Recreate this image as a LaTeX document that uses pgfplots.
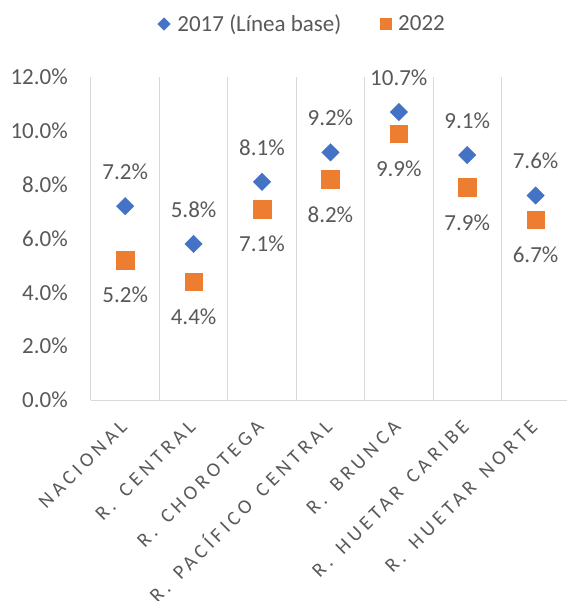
\documentclass[border=0pt]{standalone}
\usepackage{fontspec}
\setmainfont{Carlito}
\newfontfamily\catfont[LetterSpace=21]{Carlito}
\usepackage{pgfplots}
\pgfplotsset{compat=1.18}
\definecolor{bl}{HTML}{4472C4}
\definecolor{og}{HTML}{ED7D31}
\definecolor{gridc}{HTML}{D9D9D9}
\definecolor{txt}{HTML}{595959}
\pgfplotsset{/pgf/number format/assume math mode=true}
\newcommand{\bigf}{\fontsize{23bp}{27bp}\selectfont}
\newcommand{\ws}{\ \hspace{0.21em}}
\begin{document}
\begin{tikzpicture}
\begin{axis}[
  scale only axis, width=476bp, height=323bp,
  xmin=-0.5, xmax=6.459, ymin=0, ymax=12,
  axis lines*=left,
  x axis line style={gridc, line width=1bp},
  y axis line style={draw=none},
  clip=false,
  xtick={0,...,6},
  xticklabels={NACIONAL, R.\ws CENTRAL, R.\ws CHOROTEGA, R.\ws PACÍFICO\ws CENTRAL, R.\ws BRUNCA, R.\ws HUETAR\ws CARIBE, R.\ws HUETAR\ws NORTE},
  major tick length=0pt, minor tick length=0pt,
  minor xtick={-0.5,0.5,1.5,2.5,3.5,4.5,5.5},
  xminorgrids=true,
  minor grid style={gridc, line width=1bp},
  ytick={0,2,...,12},
  yticklabel={\pgfmathprintnumber[fixed,fixed zerofill,precision=1]{\tick}\%},
  yticklabel style={font=\bigf, text=txt, inner sep=0pt, anchor=east, xshift=-23bp},
  xticklabel style={font=\catfont\fontsize{20bp}{20bp}\selectfont, text=txt, inner sep=0pt,
     text height=12.9bp, text depth=0pt, anchor=east, xshift=-1.5bp, yshift=-23.5bp, rotate=45},
  legend style={at={(axis description cs:0.1397,1.164)}, anchor=west, draw=none, fill=none,
     legend columns=2, font=\bigf, text=txt, inner sep=0pt, nodes={inner sep=0pt},
     /tikz/every odd column/.append style={column sep=7bp},
     /tikz/every even column/.append style={column sep=39bp}},
]
\addplot[only marks, mark=square*, mark size=6.2bp,
   mark options={rotate=45, draw=bl, fill=bl, line width=0.3bp},
   legend image post style={mark size=4.5bp},
   nodes near coords={\pgfmathprintnumber[fixed,fixed zerofill,precision=1]{\pgfplotspointmeta}\%},
   nodes near coords style={anchor=center, yshift=34.5bp, font=\bigf, text=txt, inner sep=0pt}]
   coordinates {(0,7.2) (1,5.8) (2,8.1) (3,9.2) (4,10.7) (5,9.1) (6,7.6)};
\addlegendentry{2017 (Línea base)}
\addplot[only marks, mark=square*, mark size=8.8bp,
   mark options={draw=og, fill=og, line width=0.3bp},
   legend image post style={mark size=5.4bp},
   nodes near coords={\pgfmathprintnumber[fixed,fixed zerofill,precision=1]{\pgfplotspointmeta}\%},
   nodes near coords style={anchor=center, yshift=-35bp, font=\bigf, text=txt, inner sep=0pt}]
   coordinates {(0,5.2) (1,4.4) (2,7.1) (3,8.2) (4,9.9) (5,7.9) (6,6.7)};
\addlegendentry{2022}
\coordinate (sw) at (rel axis cs:0,0);
\end{axis}
\pgfresetboundingbox
\path[use as bounding box] ([shift={(-91bp,-201bp)}]sw) rectangle ([shift={(476bp,400bp)}]sw);
\end{tikzpicture}
\end{document}
